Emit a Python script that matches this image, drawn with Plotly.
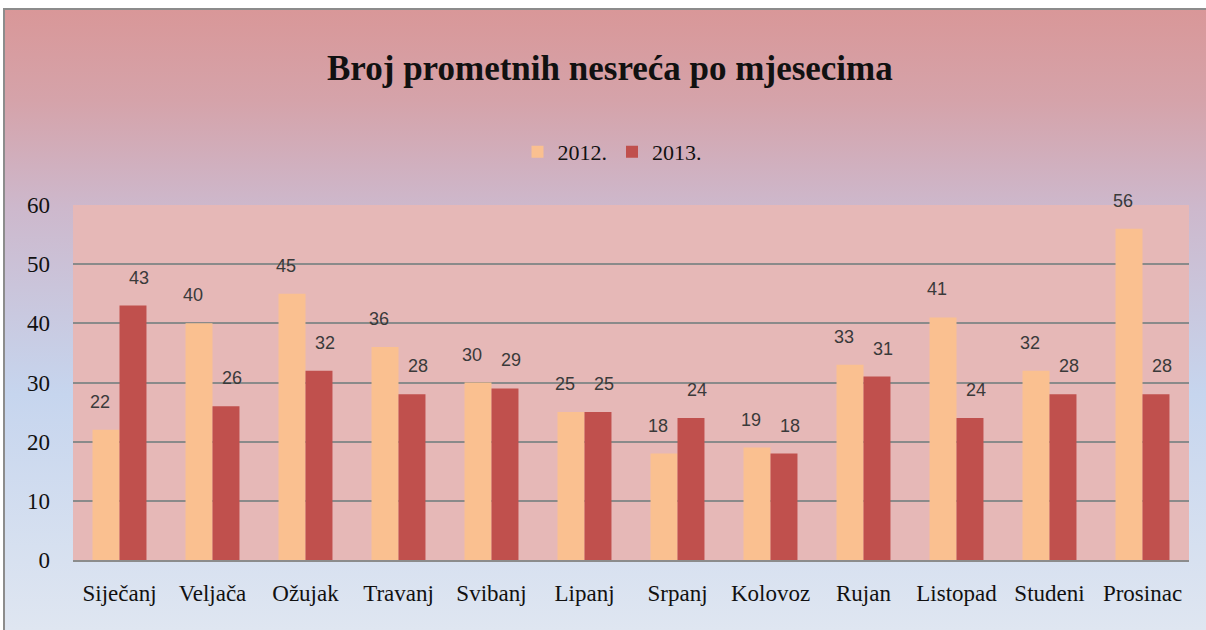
import urllib.parse
import plotly.graph_objects as go

months = ["Siječanj", "Veljača", "Ožujak", "Travanj", "Svibanj", "Lipanj",
          "Srpanj", "Kolovoz", "Rujan", "Listopad", "Studeni", "Prosinac"]
v2012 = [22, 40, 45, 36, 30, 25, 18, 19, 33, 41, 32, 56]
v2013 = [43, 26, 32, 28, 29, 25, 24, 18, 31, 24, 28, 28]
yticks = [0, 10, 20, 30, 40, 50, 60]

c2012 = "#fac090"
c2013 = "#c0504d"
serif = "Liberation Serif"
sans = "Liberation Sans"

W, H = 1206, 630
L, R, T, B = 73, 1189, 205, 560  # plot area in px

svg = (
    "<svg xmlns='http://www.w3.org/2000/svg' width='100' height='100' preserveAspectRatio='none'>"
    "<defs><linearGradient id='g' x1='0' y1='0' x2='0' y2='1'>"
    "<stop offset='0' stop-color='#d99798'/>"
    "<stop offset='0.15' stop-color='#d5a3aa'/>"
    "<stop offset='0.32' stop-color='#cdb8cc'/>"
    "<stop offset='0.62' stop-color='#c6d5ee'/>"
    "<stop offset='1' stop-color='#dfe6f1'/>"
    "</linearGradient></defs>"
    "<rect width='100' height='100' fill='url(#g)'/></svg>"
)
src = "data:image/svg+xml;charset=utf-8," + urllib.parse.quote(svg)


def px_x(px):
    return (px - L) / (R - L)


def px_y(py):
    return (B - py) / (B - T)


fig = go.Figure()
fig.add_trace(go.Bar(name="2012.", x=months, y=v2012, marker_color=c2012,
                     marker_line_width=0, hoverinfo="skip"))
fig.add_trace(go.Bar(name="2013.", x=months, y=v2013, marker_color=c2013,
                     marker_line_width=0, hoverinfo="skip"))

annotations = []
for i, m in enumerate(months):
    for val, off in ((v2012[i], -0.21), (v2013[i], 0.21)):
        annotations.append(dict(
            x=i + off, y=val, xref="x", yref="y", text=str(val),
            showarrow=False, yanchor="bottom", yshift=16,
            font=dict(family=sans, size=18, color="#3a3a3a")))

annotations.append(dict(
    x=px_x(610), y=px_y(68), xref="paper", yref="paper",
    text="<b>Broj prometnih nesreća po mjesecima</b>", showarrow=False,
    xanchor="center", yanchor="middle",
    font=dict(family=serif, size=35, color="#111111")))

fig.update_layout(
    width=W, height=H,
    margin=dict(l=L, r=W - R, t=T, b=H - B),
    paper_bgcolor="white",
    plot_bgcolor="#e6b8b7",
    barmode="group", bargap=0.42, bargroupgap=0.0,
    showlegend=True,
    legend=dict(orientation="h", x=px_x(612), xanchor="center", y=px_y(152),
                yanchor="middle", bgcolor="rgba(0,0,0,0)",
                font=dict(family=serif, size=22, color="#111111"),
                itemsizing="constant", traceorder="normal"),
    annotations=annotations,
    images=[dict(source=src, xref="paper", yref="paper",
                 x=px_x(3), y=px_y(8), sizex=(W - 3) / (R - L),
                 sizey=(H - 8) / (B - T), sizing="stretch",
                 xanchor="left", yanchor="top", layer="below")],
    shapes=[
        dict(type="rect", xref="paper", yref="paper", x0=0, x1=1, y0=0, y1=1,
             line=dict(width=0), fillcolor="#e6b8b7", layer="below"),
        dict(type="rect", xref="paper", yref="paper",
             x0=px_x(4), x1=px_x(W + 5), y0=px_y(H + 5), y1=px_y(9),
             line=dict(color="#8c8c8c", width=2), fillcolor="rgba(0,0,0,0)",
             layer="above"),
    ],
)

fig.update_xaxes(
    showgrid=False, showline=True, linecolor="#8c8c8c", linewidth=1.5,
    ticks="", tickfont=dict(family=serif, size=23, color="#111111"),
    ticklabelstandoff=12)
fig.update_yaxes(
    range=[0, 60], tickvals=yticks, showgrid=True, gridcolor="#8a8a8a",
    gridwidth=1.5, zeroline=False, showline=False, ticks="",
    tickfont=dict(family=serif, size=23, color="#111111"),
    ticklabelstandoff=22)

fig.write_html("out.html", config={"displayModeBar": False},
               post_script="document.body.style.margin='0';")
